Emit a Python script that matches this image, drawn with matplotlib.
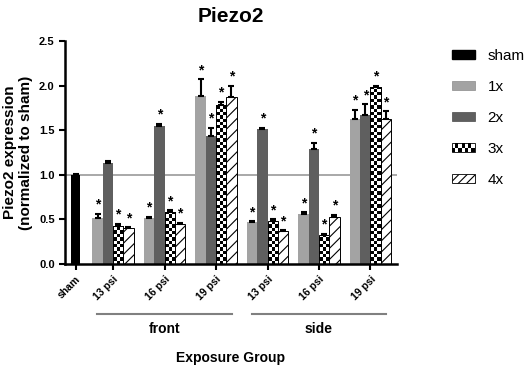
import numpy as np
import matplotlib
matplotlib.use("Agg")
import matplotlib.pyplot as plt
from matplotlib.patches import Patch, Rectangle
from matplotlib.legend_handler import HandlerBase

plt.rcParams['font.family'] = ['Liberation Sans', 'DejaVu Sans']
plt.rcParams['hatch.linewidth'] = 0.8

# ---------------- data ----------------
groups = ["13 psi", "16 psi", "19 psi", "13 psi", "16 psi", "19 psi"]
regions = ["front", "side"]
series = ["1x", "2x", "3x", "4x"]
sham_val = 1.0
sham_err = 0.01
vals_1x = [0.52, 0.51, 1.88, 0.47, 0.56, 1.63]
vals_2x = [1.13, 1.545, 1.44, 1.51, 1.29, 1.67]
vals_3x = [0.43, 0.58, 1.78, 0.48, 0.32, 1.98]
vals_4x = [0.40, 0.45, 1.87, 0.37, 0.53, 1.63]
err_1x = [0.04, 0.02, 0.19, 0.01, 0.02, 0.10]
err_2x = [0.02, 0.03, 0.09, 0.02, 0.07, 0.12]
err_3x = [0.02, 0.02, 0.04, 0.02, 0.02, 0.02]
err_4x = [0.01, 0.01, 0.13, 0.01, 0.02, 0.08]
star_1x = [True, True, True, True, True, True]
star_2x = [False, True, True, True, True, True]
star_3x = [True, True, True, True, True, True]
star_4x = [True, True, True, True, True, True]

vals = [vals_1x, vals_2x, vals_3x, vals_4x]
errs = [err_1x, err_2x, err_3x, err_4x]
stars = [star_1x, star_2x, star_3x, star_4x]

# ---------------- layout ----------------
fig = plt.figure(figsize=(5.29, 3.69), dpi=100)
ax = fig.add_axes([0.123, 0.2846, 0.627, 0.6043])

gpos = np.arange(1, len(groups) + 1)
sham_pos = 0.272
w = 0.2
offsets = [-0.3, -0.1, 0.1, 0.3]
colors = ["#a3a3a3", "#5f5f5f", "white", "white"]
hatches = [None, None, None, "///"]
XLIM = (0.068, 6.51)
YLIM = (0, 2.5)

ax.axhline(1.0, color="#9a9a9a", lw=1.2, zorder=0.5)

ax.bar(sham_pos, sham_val, width=0.18, color="black", zorder=2)
ax.errorbar(sham_pos, sham_val, yerr=[[0], [sham_err]], fmt="none",
            ecolor="black", elinewidth=1.5, capsize=2.5, capthick=1.5, zorder=3)

checker_bars = []
for i in range(4):
    x = gpos + offsets[i]
    if i >= 2:
        bars = ax.bar(x, vals[i], width=w, color="white", edgecolor="black",
                      linewidth=0.7, hatch=hatches[i], zorder=2)
    else:
        bars = ax.bar(x, vals[i], width=w, color=colors[i], zorder=2)
    if i == 2:
        checker_bars = list(bars)
    ax.errorbar(x, vals[i], yerr=[np.zeros(len(x)), errs[i]], fmt="none",
                ecolor="black", elinewidth=1.5, capsize=2.5, capthick=1.5, zorder=3)
    for xi, v, e, s in zip(x, vals[i], errs[i], stars[i]):
        if s:
            ax.annotate("*", (xi, v + e), xytext=(0, 1.5), textcoords="offset points",
                        ha="center", va="bottom", fontsize=10, fontweight="bold")

# checkerboard fill for 3x bars
cell_h = 0.037
for b in checker_bars:
    x0 = b.get_x()
    h = b.get_height()
    rows = max(1, int(np.ceil(h / cell_h)))
    pat = (np.indices((rows, 3)).sum(0) % 2).astype(float)
    im = ax.imshow(pat, extent=[x0, x0 + w, rows * cell_h, 0], cmap="gray_r",
                   interpolation="nearest", aspect="auto", zorder=2.1, origin="upper")
    im.set_clip_path(b)
    ax.add_patch(Rectangle((x0, 0), w, h, fill=False, edgecolor="black",
                           linewidth=0.7, zorder=2.2))

ax.set_xlim(*XLIM)
ax.set_ylim(*YLIM)

for sp in ["top", "right"]:
    ax.spines[sp].set_visible(False)
for sp in ["left", "bottom"]:
    ax.spines[sp].set_linewidth(1.8)

ax.set_yticks(np.arange(0, 2.51, 0.5))
ax.set_yticklabels([f"{v:.1f}" for v in np.arange(0, 2.51, 0.5)],
                   fontsize=8, fontweight="bold")
ax.set_xticks([sham_pos] + list(gpos))
ax.set_xticklabels(["sham"] + groups, rotation=45, ha="right",
                   rotation_mode="anchor", fontsize=7.5, fontweight="bold")
ax.tick_params(axis="both", direction="out", length=4, width=1.5)
ax.tick_params(axis="x", pad=3)

ax.set_ylabel("Piezo2 expression\n(normalized to sham)", fontsize=11,
              fontweight="bold", labelpad=4)
ax.set_title("Piezo2", fontsize=15, fontweight="bold", pad=14, x=0.5)

# group brackets
trans = ax.get_xaxis_transform()
for k, reg in enumerate(regions):
    g0 = gpos[k * 3]
    g1 = gpos[k * 3 + 2]
    ax.plot([g0 - 0.31, g1 + 0.31], [-0.224, -0.224], color="#808080", lw=1.5,
            transform=trans, clip_on=False)
    ax.text((g0 + g1) / 2, -0.29, reg, transform=trans, ha="center", va="center",
            fontsize=10, fontweight="bold")
ax.text((XLIM[0] + XLIM[1]) / 2, -0.42, "Exposure Group", transform=trans,
        ha="center", va="center", fontsize=10, fontweight="bold")


# legend with checker handle
class CheckerHandler(HandlerBase):
    def create_artists(self, legend, orig_handle, xdescent, ydescent, width,
                       height, fontsize, trans):
        arts = []
        nc, nr = 7, 2
        cw, ch = width / nc, height / nr
        for r in range(nr):
            for c in range(nc):
                fc = "black" if (r + c) % 2 == 0 else "white"
                arts.append(Rectangle((-xdescent + c * cw, -ydescent + r * ch), cw, ch,
                                      facecolor=fc, edgecolor="none", transform=trans))
        arts.append(Rectangle((-xdescent, -ydescent), width, height, fill=False,
                              edgecolor="black", lw=0.6, transform=trans))
        return arts


h_sham = Patch(facecolor="black", edgecolor="black")
h1 = Patch(facecolor=colors[0], edgecolor="#8a8a8a", lw=0.5)
h2 = Patch(facecolor=colors[1], edgecolor="#4a4a4a", lw=0.5)
h3 = Patch(facecolor="white", edgecolor="black")
h4 = Patch(facecolor="white", edgecolor="black", hatch="////", lw=0.6)
leg = fig.legend([h_sham, h1, h2, h3, h4], ["sham"] + series,
                 loc="upper left", bbox_to_anchor=(0.854, 0.868), frameon=False,
                 fontsize=11, handlelength=1.5, handleheight=0.5,
                 handletextpad=0.85, labelspacing=1.12, borderaxespad=0,
                 borderpad=0, handler_map={h3: CheckerHandler()})

fig.savefig("out.png", dpi=100)
